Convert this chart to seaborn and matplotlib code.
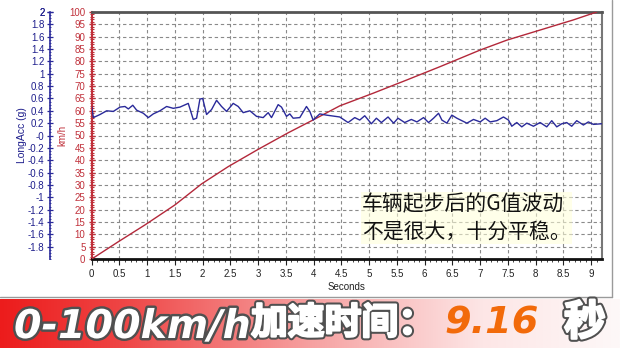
import numpy as np
import pandas as pd
import matplotlib
matplotlib.use("Agg")
import matplotlib.pyplot as plt
import seaborn as sns
from matplotlib.ticker import MultipleLocator, FuncFormatter
from matplotlib.colors import LinearSegmentedColormap
from matplotlib.lines import Line2D
import matplotlib.patheffects as pe

# ---------------- data ----------------
acc_time = [0.00, 0.03, 0.15, 0.27, 0.39, 0.51, 0.60, 0.66, 0.74, 0.81, 0.93, 1.02, 1.11,
            1.23, 1.35, 1.47, 1.59, 1.74, 1.83, 1.89, 1.95, 2.00, 2.07, 2.16, 2.25, 2.34,
            2.43, 2.55, 2.64, 2.73, 2.85, 2.97, 3.09, 3.18, 3.24, 3.36, 3.42, 3.51, 3.57,
            3.63, 3.75, 3.87, 3.93, 3.99, 4.11, 4.23, 4.47, 4.62, 4.74, 4.83, 4.92, 5.04,
            5.13, 5.22, 5.34, 5.44, 5.52, 5.64, 5.76, 5.86, 5.98, 6.07, 6.16, 6.25, 6.31,
            6.40, 6.49, 6.58, 6.67, 6.76, 6.88, 7.00, 7.09, 7.18, 7.30, 7.42, 7.51, 7.57,
            7.66, 7.75, 7.84, 7.96, 8.08, 8.20, 8.29, 8.38, 8.47, 8.56, 8.65, 8.74, 8.86,
            8.95, 9.04, 9.19]
long_acc = [0.47, 0.29, 0.34, 0.40, 0.39, 0.46, 0.47, 0.43, 0.49, 0.41, 0.36, 0.29, 0.35,
            0.40, 0.47, 0.44, 0.46, 0.52, 0.26, 0.28, 0.59, 0.60, 0.34, 0.42, 0.57, 0.47,
            0.39, 0.52, 0.47, 0.37, 0.40, 0.31, 0.29, 0.37, 0.29, 0.50, 0.46, 0.31, 0.35,
            0.28, 0.29, 0.47, 0.39, 0.25, 0.35, 0.33, 0.30, 0.21, 0.29, 0.25, 0.32, 0.19,
            0.28, 0.21, 0.30, 0.20, 0.28, 0.21, 0.26, 0.22, 0.29, 0.21, 0.28, 0.36, 0.25,
            0.20, 0.33, 0.28, 0.24, 0.20, 0.26, 0.22, 0.28, 0.22, 0.24, 0.30, 0.25, 0.15,
            0.21, 0.14, 0.20, 0.15, 0.21, 0.14, 0.24, 0.14, 0.19, 0.21, 0.15, 0.24, 0.17,
            0.22, 0.18, 0.19]

speed_time = [0.0, 0.48, 0.96, 1.50, 1.98, 2.46, 3.00, 3.54, 3.99, 4.47, 5.07, 5.68,
              6.28, 7.00, 7.48, 8.08, 8.68, 9.10]
speed_kmh = [0.0, 7.0, 13.8, 21.9, 30.4, 37.4, 44.4, 51.1, 56.3, 62.0, 67.1, 72.5,
             77.9, 84.6, 88.6, 92.7, 96.8, 100.0]

acc_ticks = [round(v, 1) for v in np.arange(-1.8, 2.01, 0.2)]
x_label = "Seconds"
acc_label = "LongAcc (g)"
speed_label = "km/h"
note_text = "车辆起步后的G值波动\n不是很大，十分平稳。"
banner_main = "0-100km/h"
banner_cn = "加速时间："
banner_value = "9.16"
banner_unit = "秒"

# ---------------- style ----------------
sns.set_theme(style="white")
plt.rcParams['font.family'] = ['Liberation Sans', 'Noto Sans CJK SC', 'DejaVu Sans']
plt.rcParams['axes.unicode_minus'] = False

W, H = 620, 348
fig = plt.figure(figsize=(W / 100, H / 100), dpi=100)
fig.patch.set_facecolor('white')

L, R, T, B = 91.7, 601.7, 12.0, 259.0
ax = fig.add_axes([L / W, 1 - B / H, (R - L) / W, (B - T) / H])
ax.set_facecolor('white')

df_spd = pd.DataFrame({'t': speed_time, 'v': speed_kmh})
df_acc = pd.DataFrame({'t': acc_time, 'g': long_acc})

red = '#b3283a'
blue = '#2a2a9a'
tick_red = '#c0303a'
lab_blue = '#1e1e8c'

sns.lineplot(data=df_spd, x='t', y='v', ax=ax, color=red, lw=1.0, zorder=3)
ax.set_xlim(0, 9.19)
ax.set_ylim(0, 100)
ax.xaxis.set_major_locator(MultipleLocator(0.5))
ax.xaxis.set_minor_locator(MultipleLocator(0.1))
ax.yaxis.set_major_locator(MultipleLocator(5))
ax.yaxis.set_minor_locator(MultipleLocator(1))
ax.xaxis.set_major_formatter(FuncFormatter(lambda v, p: f"{v:g}"))
ax.grid(True, which='major', color='#8a8a8a', linestyle=(0, (3, 2.5)), linewidth=0.8)
ax.set_axisbelow(True)
ax.tick_params(axis='x', which='major', direction='out', length=4, width=0.8,
               color='#222222', labelsize=7, labelcolor='#222222', pad=3, bottom=True)
ax.tick_params(axis='x', which='minor', direction='out', length=2, width=0.6,
               color='#222222', bottom=True)
ax.tick_params(axis='y', which='major', direction='inout', length=5, width=1.0,
               color=tick_red, labelsize=7, labelcolor=tick_red, pad=2, left=True)
ax.tick_params(axis='y', which='minor', direction='inout', length=2.5, width=0.8,
               color=tick_red, left=True)
ax.set_xlabel(x_label, fontsize=7, color='#222222', labelpad=2)
ax.set_ylabel(speed_label, fontsize=7, color=tick_red)
ax.yaxis.set_label_coords((67 - L) / (R - L), 0.5)
ax.spines['top'].set_color('#555555'); ax.spines['top'].set_linewidth(2)
ax.spines['right'].set_color('#777777'); ax.spines['right'].set_linewidth(1.5)
ax.spines['bottom'].set_color('#111111'); ax.spines['bottom'].set_linewidth(2)
ax.spines['left'].set_color(tick_red); ax.spines['left'].set_linewidth(1.5)

ax2 = ax.twinx()
sns.lineplot(data=df_acc, x='t', y='g', ax=ax2, color=blue, lw=1.0, zorder=4)
ax2.set_ylim(-2, 2)
ax2.set_xlim(0, 9.19)
ax2.set_yticks(acc_ticks + [2.0])
ax2.yaxis.set_major_formatter(FuncFormatter(lambda v, p: f"{round(v, 1):g}"))
ax2.yaxis.set_minor_locator(MultipleLocator(0.05))
ax2.yaxis.tick_left()
ax2.yaxis.set_label_position('left')
ax2.spines['left'].set_position(('outward', (L - 50) * 0.72))
ax2.spines['left'].set_color(blue); ax2.spines['left'].set_linewidth(1.2)
for s in ['right', 'top', 'bottom']:
    ax2.spines[s].set_visible(False)
ax2.tick_params(axis='y', which='major', direction='inout', length=4, width=0.9,
                color=blue, labelsize=7, labelcolor=lab_blue, pad=2, left=True, right=False)
ax2.tick_params(axis='y', which='minor', direction='inout', length=2, width=0.6,
                color=blue, left=True, right=False)
ax2.set_ylabel(acc_label, fontsize=7.5, color=lab_blue)
ax2.yaxis.set_label_coords((27 - L) / (R - L), 0.5)
ax2.set_xlabel('')

# annotation
fig.text(362 / W, 1 - 218 / H, note_text, fontsize=15, color='#111111',
         family=['Noto Sans CJK SC', 'DejaVu Sans'], va='center', ha='left',
         linespacing=1.3,
         bbox=dict(facecolor='#ffffd8', edgecolor='none', alpha=0.55, pad=1))

# outer frame lines
fig.add_artist(Line2D([0, 612 / W], [1 - 297 / H] * 2, transform=fig.transFigure,
                      color='#9a9a9a', lw=1))
fig.add_artist(Line2D([612 / W] * 2, [1 - 297 / H, 1], transform=fig.transFigure,
                      color='#9a9a9a', lw=1))

# banner
bax = fig.add_axes([0, 0, 1, 49 / H])
cmap = LinearSegmentedColormap.from_list('ban', [(0, '#ec1c1c'), (0.2, '#ef4646'),
                                                 (0.5, '#f6a0a0'), (0.78, '#fde6e6'),
                                                 (1, '#fdf8f8')])
bax.imshow(np.linspace(0, 1, 256)[None, :], aspect='auto', cmap=cmap, extent=[0, 1, 0, 1])
bax.set_axis_off()

stroke = [pe.Stroke(linewidth=3.5, foreground='#505050'), pe.Normal()]
stroke_cn = [pe.Stroke(linewidth=4.5, foreground='#505050'),
             pe.Stroke(linewidth=1.6, foreground='white'), pe.Normal()]
fig.text(14 / W, 1 - 338 / H, banner_main, fontsize=28.5, fontweight='bold', fontstyle='italic',
         family=['DejaVu Sans'], color='white', va='baseline',
         path_effects=stroke)
fig.text(251 / W, 1 - 334 / H, banner_cn, fontsize=26.5, fontweight='bold',
         family=['Noto Sans CJK SC', 'DejaVu Sans'], color='white', va='baseline',
         path_effects=stroke_cn)
fig.text(444 / W, 1 - 333 / H, banner_value, fontsize=27.5, fontweight='bold', fontstyle='italic',
         family=['DejaVu Sans'], color='#f26a0a', va='baseline')
fig.text(564 / W, 1 - 335 / H, banner_unit, fontsize=30, fontweight='bold',
         family=['Noto Sans CJK SC', 'DejaVu Sans'], color='white', va='baseline',
         path_effects=stroke_cn)

fig.savefig('out.png', dpi=100, facecolor='white')
